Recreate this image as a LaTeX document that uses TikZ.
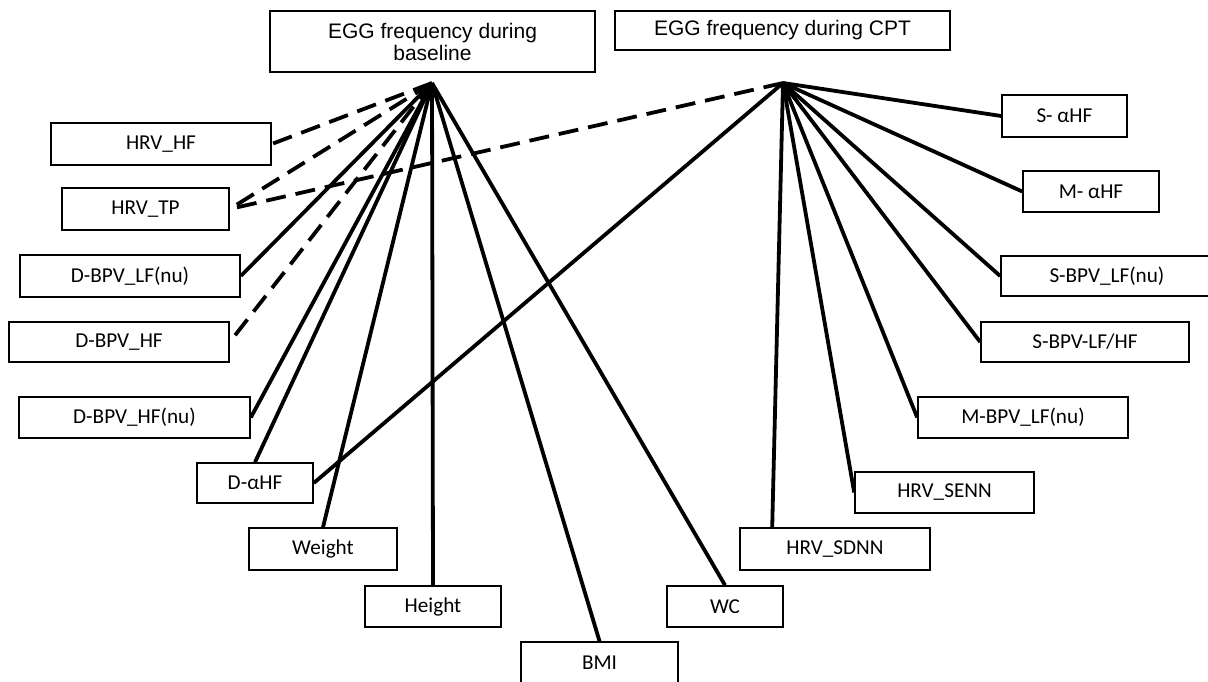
\documentclass[tikz,border=0pt]{standalone}
\usepackage{fontspec}
\setmainfont{Carlito}
\newfontfamily\arialfont{Liberation Sans}
\usetikzlibrary{calc}
\tikzset{
    var_box/.style 2 args = {rectangle, draw=black, line width=0.8pt, inner sep=0pt, align=center, text centered, minimum width=#1*0.5pt, minimum height=#2*0.5pt, font=\fontsize{10.6}{12}\selectfont},
    egg_box/.style 2 args = {var_box={#1}{#2}, font=\arialfont\fontsize{10.5}{11}\selectfont},
    link_solid/.style = {black, line width=1.9pt},
    link_dash/.style = {link_solid, dash pattern=on 10pt off 5pt}
}
\begin{document}
\begin{tikzpicture}[x=0.5pt, y=-0.5pt]
\useasboundingbox (0,0) rectangle (1208,681);
% EGG boxes and the points where the lines meet
\node [egg_box={325}{61}] (egg_base) at (432.5,41.5) {EGG frequency during\\baseline};
\node [egg_box={335}{39}] (egg_cpt) at (782.5,30.5) {EGG frequency during CPT};
\coordinate (hub_base) at (432,83);
\coordinate (hub_cpt) at (783,83);
% left side
\node [var_box={220}{42}] (hrv_hf) at (161,144) {HRV\_HF};
\node [var_box={167}{42}] (hrv_tp) at (145.5,209) {HRV\_TP};
\node [var_box={220}{42}] (d_lf_nu) at (130,276) {D-BPV\_LF(nu)};
\node [var_box={220}{40}] (d_hf) at (119,342) {D-BPV\_HF};
\node [var_box={231}{41}] (d_hf_nu) at (134.5,417.5) {D-BPV\_HF(nu)};
\node [var_box={116}{40}] (d_ahf) at (255,483) {D-αHF};
\node [var_box={148}{42}] (weight) at (323,549) {Weight};
\node [var_box={136}{41}] (height) at (433,606.5) {Height};
\node [var_box={157}{41}] (bmi) at (599.5,662.5) {BMI};
\node [var_box={116}{41}] (wc) at (725,606.5) {WC};
% right side
\node [var_box={190}{42}] (hrv_sdnn) at (835,549) {HRV\_SDNN};
\node [var_box={179}{41}] (hrv_senn) at (944.5,492.5) {HRV\_SENN};
\node [var_box={210}{41}] (m_lf_nu) at (1023,417.5) {M-BPV\_LF(nu)};
\node [var_box={208}{40}] (s_lf_hf) at (1085,342) {S-BPV-LF/HF};
\node [var_box={212}{40}] (s_lf_nu) at (1107,276) {S-BPV\_LF(nu)};
\node [var_box={136}{41}] (m_ahf) at (1091,191.5) {M- αHF};
\node [var_box={125}{42}] (s_ahf) at (1064.5,116) {S- αHF};
% connectors
\foreach \t in {hrv_hf.east, hrv_tp.east, d_hf.east}
    \draw [link_dash] (hub_base) -- (\t);
\foreach \t in {d_lf_nu.east, d_hf_nu.east, d_ahf.north, weight.north, height.north, bmi.north, wc.north}
    \draw [link_solid] (hub_base) -- (\t);
\draw [link_dash] (hub_cpt) -- (hrv_tp.east);
\draw [link_solid] (hub_cpt) -- (d_ahf.east);
\draw [link_solid] (hub_cpt) -- ($(hrv_sdnn.north west)+(33,0)$);
\foreach \t in {hrv_senn.west, m_lf_nu.west, s_lf_hf.west, s_lf_nu.west, m_ahf.west, s_ahf.west}
    \draw [link_solid] (hub_cpt) -- (\t);
\end{tikzpicture}
\end{document}
